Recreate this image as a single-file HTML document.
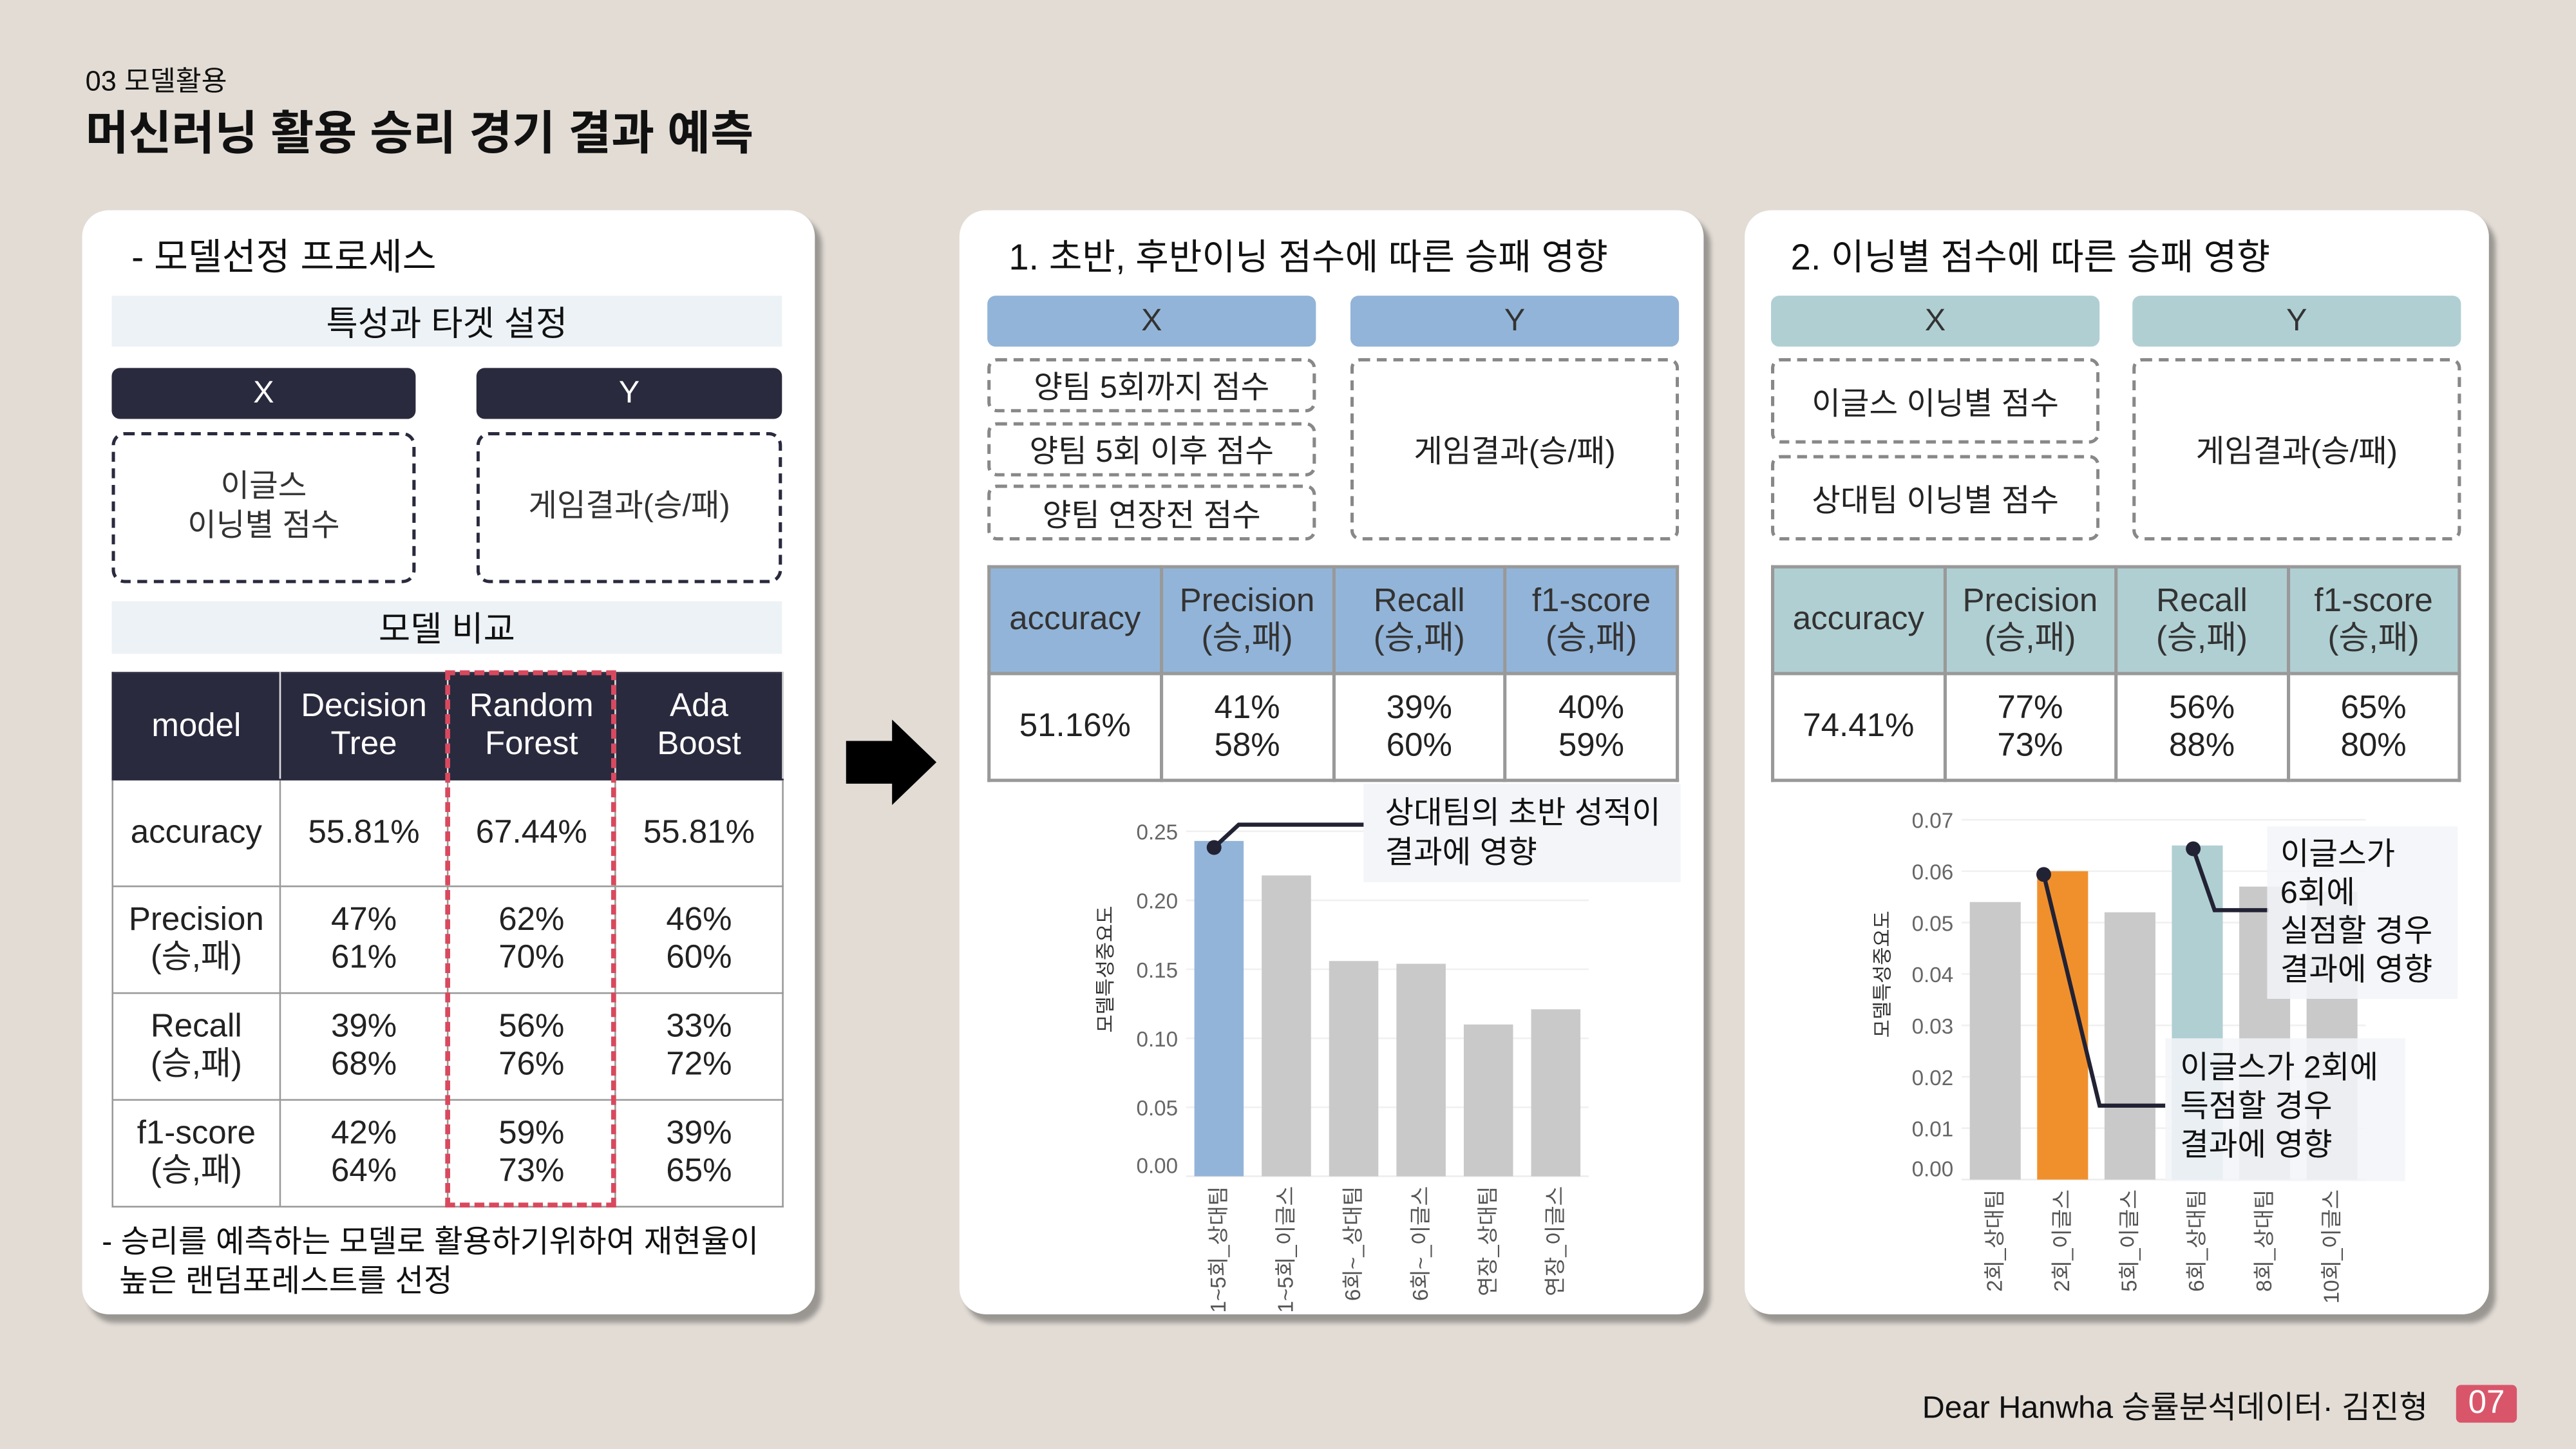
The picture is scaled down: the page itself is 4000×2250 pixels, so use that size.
<!DOCTYPE html>
<html><head><meta charset="utf-8">
<style>
html,body{margin:0;padding:0;}
body{width:4000px;height:2250px;overflow:hidden;background:#e2dcd5;}
#page{position:absolute;left:0;top:0;width:1568px;height:882px;transform:scale(2.55102);transform-origin:0 0;font-family:"Liberation Sans","Noto Sans CJK KR",sans-serif;color:#111;}
.abs{position:absolute;box-sizing:border-box;}
.card{background:#fff;border-radius:16px;box-shadow:4px 5px 3px rgba(0,0,0,0.32);}
.ctr{display:flex;align-items:center;justify-content:center;text-align:center;}
.band{background:#edf2f6;font-size:21px;}
.dk{background:#2a2a3e;color:#fff;font-size:19px;border-radius:5px;}
.dash1{border:2.5px dashed #2a2a3e;border-radius:8px;font-size:19px;color:#333;line-height:24px;}
.dash2{border:2.5px dashed #888;border-radius:6px;font-size:19px;color:#222;}
table{border-collapse:collapse;position:absolute;table-layout:fixed;}
td{text-align:center;vertical-align:middle;padding:0;font-size:20px;line-height:23px;color:#222;}
.t1 td{border:1.5px solid #999;}
.t1 tr.h td{background:#2a2a3e;color:#fff;border-color:#2a2a3e;border-right:1.5px solid #ddd;}
.t2 td{border:2px solid #999;}
.t2 tr.h td{color:#333;}
</style></head>
<body>
<div id="page">
  <div class="abs" style="left:52px;top:35px;font-size:17px;">03 모델활용</div>
  <div class="abs" style="left:52px;top:59px;font-size:28.5px;font-weight:bold;">머신러닝 활용 승리 경기 결과 예측</div>

  <div class="abs card" style="left:50px;top:128px;width:446px;height:672px;"></div>
  <div class="abs" style="left:80px;top:139px;font-size:22.5px;">- 모델선정 프로세스</div>
  <div class="abs band ctr" style="left:68px;top:180px;width:408px;height:31px;">특성과 타겟 설정</div>
  <div class="abs dk ctr" style="left:68px;top:224px;width:185px;height:31px;">X</div>
  <div class="abs dk ctr" style="left:290px;top:224px;width:186px;height:31px;">Y</div>
  <div class="abs dash1 ctr" style="left:68px;top:263px;width:185px;height:92px;">이글스<br>이닝별 점수</div>
  <div class="abs dash1 ctr" style="left:290px;top:263px;width:186px;height:92px;">게임결과(승/패)</div>
  <div class="abs band ctr" style="left:68px;top:366px;width:408px;height:32px;">모델 비교</div>
  <table class="t1" style="left:68px;top:409px;width:408px;height:325px;">
    <colgroup><col style="width:102px"><col style="width:102px"><col style="width:102px"><col style="width:102px"></colgroup>
    <tr class="h" style="height:65px"><td>model</td><td>Decision<br>Tree</td><td>Random<br>Forest</td><td>Ada<br>Boost</td></tr>
    <tr style="height:65px"><td>accuracy</td><td>55.81%</td><td>67.44%</td><td>55.81%</td></tr>
    <tr style="height:65px"><td>Precision<br>(승,패)</td><td>47%<br>61%</td><td>62%<br>70%</td><td>46%<br>60%</td></tr>
    <tr style="height:65px"><td>Recall<br>(승,패)</td><td>39%<br>68%</td><td>56%<br>76%</td><td>33%<br>72%</td></tr>
    <tr style="height:65px"><td>f1-score<br>(승,패)</td><td>42%<br>64%</td><td>59%<br>73%</td><td>39%<br>65%</td></tr>
  </table>
  <div class="abs" style="left:271px;top:408px;width:104px;height:327px;border:3px dashed #d9495e;"></div>
  <div class="abs" style="left:62px;top:745px;font-size:19px;line-height:24px;">- 승리를 예측하는 모델로 활용하기위하여 재현율이<br>&nbsp;&nbsp;높은 랜덤포레스트를 선정</div>

  <svg class="abs" style="left:510px;top:430px;" width="70" height="70"><polygon points="5,21 33,21 33,8 60,34 33,60 33,47 5,47" fill="#000"/></svg>

  <div class="abs card" style="left:584px;top:128px;width:453px;height:672px;"></div>
  <div class="abs" style="left:614px;top:139px;font-size:22px;">1. 초반, 후반이닝 점수에 따른 승패 영향</div>
  <div class="abs ctr" style="left:601px;top:180px;width:200px;height:31px;background:#92b4d8;border-radius:5px;font-size:19px;color:#333;">X</div>
  <div class="abs ctr" style="left:822px;top:180px;width:200px;height:31px;background:#92b4d8;border-radius:5px;font-size:19px;color:#333;">Y</div>
  <div class="abs dash2 ctr" style="left:601px;top:218px;width:200px;height:33px;">양팀 5회까지 점수</div>
  <div class="abs dash2 ctr" style="left:601px;top:257px;width:200px;height:33px;">양팀 5회 이후 점수</div>
  <div class="abs dash2 ctr" style="left:601px;top:295px;width:200px;height:34px;">양팀 연장전 점수</div>
  <div class="abs dash2 ctr" style="left:822px;top:218px;width:200px;height:111px;">게임결과(승/패)</div>
  <table class="t2" style="left:601px;top:344px;width:421px;height:130px;">
    <colgroup><col><col><col><col></colgroup>
    <tr class="h" style="height:65px;background:#92b4d8"><td>accuracy</td><td>Precision<br>(승,패)</td><td>Recall<br>(승,패)</td><td>f1-score<br>(승,패)</td></tr>
    <tr style="height:65px"><td>51.16%</td><td>41%<br>58%</td><td>39%<br>60%</td><td>40%<br>59%</td></tr>
  </table>

  <div class="abs card" style="left:1062px;top:128px;width:453px;height:672px;"></div>
  <div class="abs" style="left:1090px;top:139px;font-size:22px;">2. 이닝별 점수에 따른 승패 영향</div>
  <div class="abs ctr" style="left:1078px;top:180px;width:200px;height:31px;background:#b0cfd3;border-radius:5px;font-size:19px;color:#333;">X</div>
  <div class="abs ctr" style="left:1298px;top:180px;width:200px;height:31px;background:#b0cfd3;border-radius:5px;font-size:19px;color:#333;">Y</div>
  <div class="abs dash2 ctr" style="left:1078px;top:218px;width:200px;height:52px;">이글스 이닝별 점수</div>
  <div class="abs dash2 ctr" style="left:1078px;top:277px;width:200px;height:52px;">상대팀 이닝별 점수</div>
  <div class="abs dash2 ctr" style="left:1298px;top:218px;width:200px;height:111px;">게임결과(승/패)</div>
  <table class="t2" style="left:1078px;top:344px;width:420px;height:130px;">
    <colgroup><col><col><col><col></colgroup>
    <tr class="h" style="height:65px;background:#b0cfd3"><td>accuracy</td><td>Precision<br>(승,패)</td><td>Recall<br>(승,패)</td><td>f1-score<br>(승,패)</td></tr>
    <tr style="height:65px"><td>74.41%</td><td>77%<br>73%</td><td>56%<br>88%</td><td>65%<br>80%</td></tr>
  </table>

  <svg id="charts" class="abs" style="left:0;top:0;" width="1568" height="882"></svg>

  <div class="abs" style="left:1170px;top:842px;font-size:19px;">Dear Hanwha 승률분석데이터· 김진형</div>
  <div class="abs ctr" style="left:1495px;top:843px;width:37px;height:23px;background:#d9566a;color:#fff;font-size:20px;border-radius:3px;">07</div>
</div>
<script>
const c1Cats = ["1~5회_상대팀","1~5회_이글스","6회~_상대팀","6회~_이글스","연장_상대팀","연장_이글스"];
const c1Vals = [0.243, 0.218, 0.156, 0.154, 0.110, 0.121];
const c1Ticks = [0, 0.05, 0.10, 0.15, 0.20, 0.25];
const c1TickLabels = ["0.00","0.05","0.10","0.15","0.20","0.25"];
const c1Colors = ["#92b4d8","#c9c9c9","#c9c9c9","#c9c9c9","#c9c9c9","#c9c9c9"];

const c2Cats = ["2회_상대팀","2회_이글스","5회_이글스","6회_상대팀","8회_상대팀","10회_이글스"];
const c2Vals = [0.054, 0.060, 0.052, 0.065, 0.057, 0.056];
const c2Ticks = [0, 0.01, 0.02, 0.03, 0.04, 0.05, 0.06, 0.07];
const c2TickLabels = ["0.00","0.01","0.02","0.03","0.04","0.05","0.06","0.07"];
const c2Colors = ["#c9c9c9","#f0902c","#c9c9c9","#b0cfd3","#c9c9c9","#c9c9c9"];

const NS = "http://www.w3.org/2000/svg";
const svg = document.getElementById("charts");
function mk(tag, attrs, parent){
  const e = document.createElementNS(NS, tag);
  for (const k in attrs) e.setAttribute(k, attrs[k]);
  (parent||svg).appendChild(e);
  return e;
}
function chart(cfg){
  const g = mk("g", {});
  
  
  const y = v => cfg.y0 - v / cfg.max * (cfg.y0 - cfg.yTop);
  const xb = i => cfg.x0 + i * cfg.step;
  cfg.ticks.forEach((t, i) => {
    const gl = mk("line", {x1: cfg.x0 - 5, x2: cfg.xEnd, y1: y(t), y2: y(t), stroke: "#f0f0f0", "stroke-width": 1}, g);
    
    
    const tl = mk("text", {x: cfg.x0 - 10, y: y(t) + 5 - (i === 0 ? 7 : 0), "text-anchor": "end", "font-size": 13, fill: "#666", "font-family": "Liberation Sans, sans-serif"}, g);
    tl.textContent = cfg.tickLabels[i];
    
    
  });
  mk("line", {x1: cfg.x0 - 5, x2: cfg.xEnd, y1: cfg.y0, y2: cfg.y0, stroke: "#eee", "stroke-width": 1}, g);
  cfg.vals.forEach((v, i) => {
    const r = mk("rect", {x: xb(i), y: y(v), width: cfg.bw, height: cfg.y0 - y(v), fill: cfg.colors[i]}, g);
    
    
    const cx = xb(i) + cfg.bw / 2;
    const lt = mk("text", {x: 0, y: 0, transform: "translate(" + (cx + 4) + "," + (cfg.y0 + 6) + ") rotate(-90)", "text-anchor": "end", "font-size": 13, fill: "#555", "font-family": "Liberation Sans, Noto Sans CJK KR, sans-serif"}, g);
    lt.textContent = cfg.cats[i];
    
    
  });
  const yt = mk("text", {x: 0, y: 0, transform: "translate(" + cfg.titleX + "," + cfg.titleY + ") rotate(-90)", "text-anchor": "middle", "font-size": 12, fill: "#333", "font-family": "Liberation Sans, Noto Sans CJK KR, sans-serif"}, g);
  yt.textContent = "모델특성중요도";
  
  
  return {y, xb, g};
}
const ch1 = chart({name: "importance-chart-1", cats: c1Cats, vals: c1Vals, ticks: c1Ticks, tickLabels: c1TickLabels, colors: c1Colors, x0: 727, step: 41, bw: 30, xEnd: 967, y0: 716, yTop: 506, max: 0.25, titleX: 677, titleY: 590});
const ch2 = chart({name: "importance-chart-2", cats: c2Cats, vals: c2Vals, ticks: c2Ticks, tickLabels: c2TickLabels, colors: c2Colors, x0: 1199, step: 41, bw: 31, xEnd: 1440, y0: 718, yTop: 499, max: 0.07, titleX: 1150, titleY: 593});

function note(name, x, y, w, h, lines, tx, ty, lh, fill){
  const g = mk("g", {});
  
  
  mk("rect", {x: x, y: y, width: w, height: h, fill: fill}, g);
  lines.forEach((l, i) => {
    const t = mk("text", {x: tx, y: ty + i * lh, "font-size": 19, fill: "#111", "font-family": "Liberation Sans, Noto Sans CJK KR, sans-serif"}, g);
    t.textContent = l;
  });
}
function leader(name, pts){
  const p = mk("polyline", {points: pts.map(q => q.join(",")).join(" "), fill: "none", stroke: "#222235", "stroke-width": 2.5}, svg);
  
  
  const d = mk("circle", {cx: pts[0][0], cy: pts[0][1], r: 4.5, fill: "#222235"}, svg);
  
  
}
note("annotation-early-opponent", 830, 477, 193, 60, ["상대팀의 초반 성적이", "결과에 영향"], 843, 501, 24, "#f3f5f8");
leader("annotation-leader-1", [[ch1.xb(0) + 12, ch1.y(c1Vals[0]) + 4], [ch1.xb(0) + 27, 502], [830, 502]]);
leader("annotation-leader-2", [[ch2.xb(1) + 4, ch2.y(c2Vals[1]) + 2], [1278, 673], [1318, 673]]);
leader("annotation-leader-3", [[ch2.xb(3) + 13, ch2.y(c2Vals[3]) + 2], [1348, 554], [1381, 554]]);
note("annotation-inning6", 1380, 503, 116, 105, ["이글스가", "6회에", "실점할 경우", "결과에 영향"], 1388, 526, 23.5, "rgba(243,245,248,0.85)");
note("annotation-inning2", 1318, 632, 146, 87, ["이글스가 2회에", "득점할 경우", "결과에 영향"], 1327, 656, 23.5, "rgba(243,245,248,0.85)");
</script>
</body></html>
